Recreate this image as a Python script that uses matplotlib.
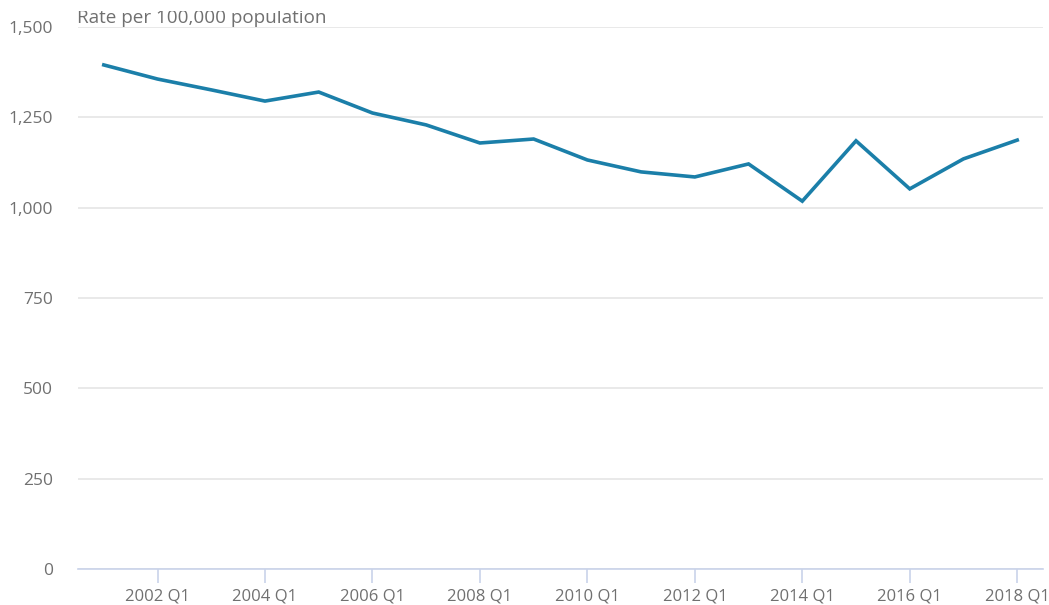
import matplotlib
matplotlib.use("Agg")
import matplotlib.pyplot as plt
from matplotlib.ticker import FuncFormatter
from matplotlib.patches import Rectangle

years = list(range(2001, 2019))
rates = [1395, 1356, 1326, 1295, 1320, 1262, 1229, 1179, 1190, 1132,
         1099, 1085, 1121, 1018, 1185, 1052, 1135, 1187]
xtick_years = [2002, 2004, 2006, 2008, 2010, 2012, 2014, 2016, 2018]
xtick_labels = [f"{y} Q1" for y in xtick_years]
yticks = [0, 250, 500, 750, 1000, 1250, 1500]
ylabel_text = "Rate per 100,000 population"

plt.rcParams['font.family'] = ['Open Sans', 'DejaVu Sans']
text_color = '#707070'

fig = plt.figure(figsize=(10.49, 6.05), dpi=100)
ax = fig.add_axes([78/1049, 1-569/605, (1043-78)/1049, (569-27)/605])

ax.plot(years, rates, color='#1b7fa9', linewidth=2.6, solid_joinstyle='miter', zorder=3)

ax.set_xlim(2000.52, 2018.48)
ax.set_ylim(0, 1500)
ax.set_yticks(yticks)
ax.yaxis.set_major_formatter(FuncFormatter(lambda v, p: f"{int(v):,}"))
ax.set_xticks(xtick_years)
ax.set_xticklabels(xtick_labels)

ax.grid(axis='y', color='#e3e3e3', linewidth=1.1, zorder=0)
ax.set_axisbelow(True)
for s in ['top', 'right', 'left']:
    ax.spines[s].set_visible(False)
ax.spines['bottom'].set_color('#c9d3ea')
ax.spines['bottom'].set_linewidth(1.2)

ax.tick_params(axis='y', length=0, pad=18, labelsize=12.5, labelcolor=text_color)
ax.tick_params(axis='x', length=10, width=1.2, color='#c9d3ea', pad=4,
               labelsize=12, labelcolor=text_color)

fig.text(77/1049, 1-23/605, ylabel_text, ha='left', va='baseline',
         fontsize=13.6, color=text_color, zorder=5)

# the reference's label is cut off at the top edge
fig.patches.append(Rectangle((0, 1-11/605), 1, 11/605, transform=fig.transFigure,
                             facecolor='white', edgecolor='none', zorder=10))

fig.savefig("out.png", dpi=100)
